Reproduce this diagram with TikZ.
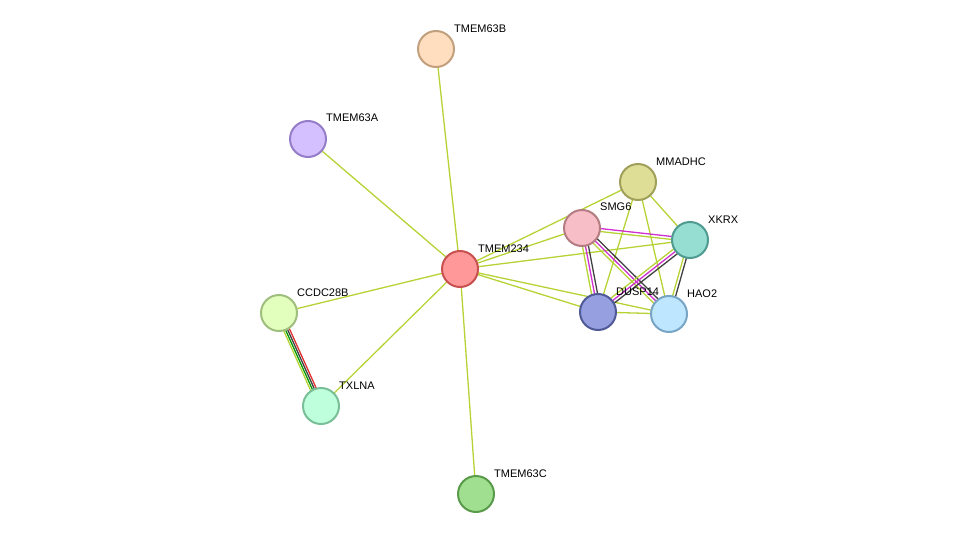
\documentclass[tikz,border=0pt]{standalone}
\usepackage{fontspec}
\setmainfont{Liberation Sans}
\usetikzlibrary{calc}
\definecolor{eg}{HTML}{B5D334}
\definecolor{em}{HTML}{D030D0}
\definecolor{ek}{HTML}{404040}
\definecolor{er}{HTML}{E03030}
\tikzset{
 prot/.style={circle,minimum size=36pt,inner sep=0pt,line width=2pt},
 lab/.style={font=\fontsize{11pt}{12pt}\selectfont,anchor=south west,inner sep=0pt},
 ed/.style={line width=1.3pt}
}
\newcommand{\pedge}[4]{% from, to, offset, color
 \draw[ed,#4] ($(#1)!#3!90:(#2)$) -- ($(#2)!#3!-90:(#1)$);}
\begin{document}
\begin{tikzpicture}[x=1pt,y=-1pt]
\useasboundingbox (0,0) rectangle (976,540);
\coordinate (a) at (460,269);
\coordinate (b) at (436,49);
\coordinate (c) at (308,139);
\coordinate (d) at (279,313);
\coordinate (e) at (321,406);
\coordinate (f) at (476,494);
\coordinate (g) at (582,228);
\coordinate (h) at (638,182);
\coordinate (i) at (690,240);
\coordinate (j) at (598,312);
\coordinate (k) at (669,314);
% edges
\foreach \t in {b,c,d,e,f,g,h,i,j,k} \draw[ed,eg] (a) -- (\t);
\foreach \t in {j,k,i} \draw[ed,eg] (h) -- (\t);
\draw[ed,eg] (j) -- (k);
\pedge{g}{i}{1.5pt}{em}\pedge{g}{i}{-1.5pt}{eg}
\pedge{g}{j}{3pt}{ek}\pedge{g}{j}{0pt}{em}\pedge{g}{j}{-3pt}{eg}
\pedge{g}{k}{3pt}{ek}\pedge{g}{k}{0pt}{em}\pedge{g}{k}{-3pt}{eg}
\pedge{i}{j}{3pt}{ek}\pedge{i}{j}{0pt}{em}\pedge{i}{j}{-3pt}{eg}
\pedge{i}{k}{1.5pt}{ek}\pedge{i}{k}{-1.5pt}{eg}
\pedge{d}{e}{3pt}{er}\pedge{d}{e}{1pt}{ek}\pedge{d}{e}{-1pt}{green!60!black}\pedge{d}{e}{-3pt}{eg}
% nodes
\node[prot,fill={rgb,255:red,255;green,153;blue,153},draw={rgb,255:red,200;green,80;blue,80}] (A) at (a) {};
\node[prot,fill={rgb,255:red,254;green,222;blue,190},draw={rgb,255:red,195;green,160;blue,125}] (B) at (b) {};
\node[prot,fill={rgb,255:red,212;green,192;blue,255},draw={rgb,255:red,150;green,125;blue,200}] (C) at (c) {};
\node[prot,fill={rgb,255:red,226;green,255;blue,190},draw={rgb,255:red,160;green,190;blue,125}] (D) at (d) {};
\node[prot,fill={rgb,255:red,190;green,255;blue,220},draw={rgb,255:red,120;green,190;blue,150}] (E) at (e) {};
\node[prot,fill={rgb,255:red,160;green,222;blue,144},draw={rgb,255:red,90;green,155;blue,75}] (F) at (f) {};
\node[prot,fill={rgb,255:red,248;green,190;blue,200},draw={rgb,255:red,180;green,125;blue,130}] (G) at (g) {};
\node[prot,fill={rgb,255:red,222;green,222;blue,150},draw={rgb,255:red,160;green,160;blue,90}] (H) at (h) {};
\node[prot,fill={rgb,255:red,150;green,222;blue,210},draw={rgb,255:red,80;green,155;blue,145}] (I) at (i) {};
\node[prot,fill={rgb,255:red,150;green,160;blue,225},draw={rgb,255:red,80;green,90;blue,150}] (J) at (j) {};
\node[prot,fill={rgb,255:red,190;green,230;blue,255},draw={rgb,255:red,120;green,165;blue,195}] (K) at (k) {};
% labels
\node[lab] (la) at (478,253) {TMEM234};
\node[lab] (lb) at (454,33) {TMEM63B};
\node[lab] (lc) at (326,122) {TMEM63A};
\node[lab] (ld) at (297,297) {CCDC28B};
\node[lab] (le) at (339,390) {TXLNA};
\node[lab] (lf) at (494,478) {TMEM63C};
\node[lab] (lg) at (600,211) {SMG6};
\node[lab] (lh) at (656,166) {MMADHC};
\node[lab] (li) at (708,224) {XKRX};
\node[lab] (lj) at (616,296) {DUSP14};
\node[lab] (lk) at (687,298) {HAO2};
\end{tikzpicture}
\end{document}
